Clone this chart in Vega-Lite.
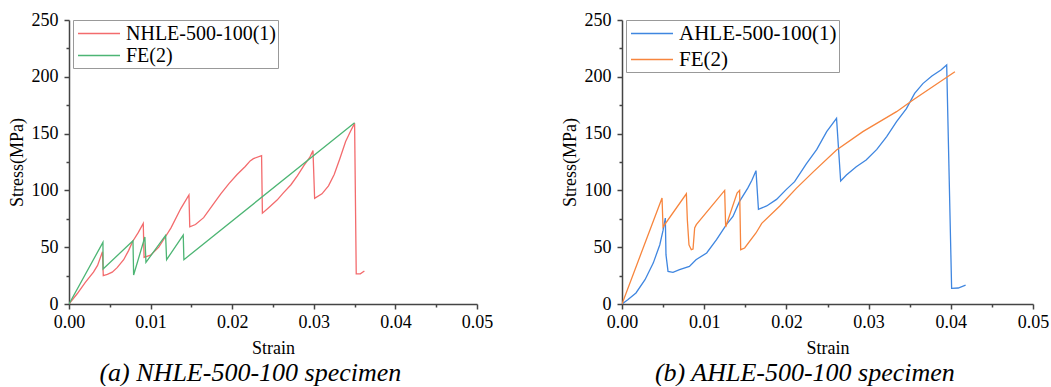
{
  "$schema": "https://vega.github.io/schema/vega-lite/v6.json",
  "padding": {"left": 8, "top": 11, "right": 5, "bottom": 0},
  "spacing": 68,
  "resolve": {"scale": {"color": "independent"}, "legend": {"color": "independent"}},
  "config": {
    "view": {"stroke": null},
    "font": "Liberation Serif",
    "axis": {
      "labelFont": "Liberation Serif", "labelFontSize": 18, "labelColor": "#000", "labelFlush": false, "labelOverlap": false,
      "titleFont": "Liberation Serif", "titleFontSize": 18, "titleFontWeight": "normal", "titleColor": "#000",
      "domainColor": "#444", "domainWidth": 1.5, "tickColor": "#444", "tickWidth": 1.5, "grid": false
    },
    "title": {"font": "Liberation Serif", "fontSize": 26, "fontStyle": "italic", "fontWeight": "normal", "color": "#000", "orient": "bottom", "anchor": "middle", "frame": "bounds", "offset": 3},
    "legend": {"labelFont": "Liberation Serif", "labelFontSize": 20, "labelColor": "#000", "labelLimit": 400}
  },
  "datasets": {
    "a": [
      {"s": "NHLE-500-100(1)", "x": 0, "y": 0},
      {"s": "NHLE-500-100(1)", "x": 0.001, "y": 9},
      {"s": "NHLE-500-100(1)", "x": 0.002, "y": 19},
      {"s": "NHLE-500-100(1)", "x": 0.003, "y": 28},
      {"s": "NHLE-500-100(1)", "x": 0.0035, "y": 34},
      {"s": "NHLE-500-100(1)", "x": 0.0041, "y": 46},
      {"s": "NHLE-500-100(1)", "x": 0.0042, "y": 25},
      {"s": "NHLE-500-100(1)", "x": 0.0047, "y": 26},
      {"s": "NHLE-500-100(1)", "x": 0.0053, "y": 28},
      {"s": "NHLE-500-100(1)", "x": 0.0059, "y": 32},
      {"s": "NHLE-500-100(1)", "x": 0.0067, "y": 39},
      {"s": "NHLE-500-100(1)", "x": 0.0073, "y": 47},
      {"s": "NHLE-500-100(1)", "x": 0.0078, "y": 55},
      {"s": "NHLE-500-100(1)", "x": 0.0085, "y": 63},
      {"s": "NHLE-500-100(1)", "x": 0.0091, "y": 71},
      {"s": "NHLE-500-100(1)", "x": 0.0092, "y": 41},
      {"s": "NHLE-500-100(1)", "x": 0.01, "y": 43},
      {"s": "NHLE-500-100(1)", "x": 0.011, "y": 50},
      {"s": "NHLE-500-100(1)", "x": 0.0118, "y": 59},
      {"s": "NHLE-500-100(1)", "x": 0.0125, "y": 67},
      {"s": "NHLE-500-100(1)", "x": 0.0137, "y": 84},
      {"s": "NHLE-500-100(1)", "x": 0.0147, "y": 96},
      {"s": "NHLE-500-100(1)", "x": 0.0148, "y": 68},
      {"s": "NHLE-500-100(1)", "x": 0.0155, "y": 70},
      {"s": "NHLE-500-100(1)", "x": 0.0165, "y": 76},
      {"s": "NHLE-500-100(1)", "x": 0.0176, "y": 87},
      {"s": "NHLE-500-100(1)", "x": 0.0186, "y": 97},
      {"s": "NHLE-500-100(1)", "x": 0.0196, "y": 106},
      {"s": "NHLE-500-100(1)", "x": 0.0206, "y": 114},
      {"s": "NHLE-500-100(1)", "x": 0.0216, "y": 121},
      {"s": "NHLE-500-100(1)", "x": 0.0222, "y": 126},
      {"s": "NHLE-500-100(1)", "x": 0.0226, "y": 128},
      {"s": "NHLE-500-100(1)", "x": 0.0236, "y": 130.5},
      {"s": "NHLE-500-100(1)", "x": 0.0237, "y": 80},
      {"s": "NHLE-500-100(1)", "x": 0.0245, "y": 85},
      {"s": "NHLE-500-100(1)", "x": 0.0255, "y": 91.5},
      {"s": "NHLE-500-100(1)", "x": 0.0263, "y": 98},
      {"s": "NHLE-500-100(1)", "x": 0.0272, "y": 105},
      {"s": "NHLE-500-100(1)", "x": 0.028, "y": 113},
      {"s": "NHLE-500-100(1)", "x": 0.0288, "y": 122},
      {"s": "NHLE-500-100(1)", "x": 0.0295, "y": 129},
      {"s": "NHLE-500-100(1)", "x": 0.0299, "y": 135},
      {"s": "NHLE-500-100(1)", "x": 0.0301, "y": 93},
      {"s": "NHLE-500-100(1)", "x": 0.031, "y": 97},
      {"s": "NHLE-500-100(1)", "x": 0.0318, "y": 104},
      {"s": "NHLE-500-100(1)", "x": 0.0325, "y": 114},
      {"s": "NHLE-500-100(1)", "x": 0.0332, "y": 128},
      {"s": "NHLE-500-100(1)", "x": 0.0339, "y": 143},
      {"s": "NHLE-500-100(1)", "x": 0.0345, "y": 152},
      {"s": "NHLE-500-100(1)", "x": 0.035, "y": 159},
      {"s": "NHLE-500-100(1)", "x": 0.0352, "y": 26.5},
      {"s": "NHLE-500-100(1)", "x": 0.0357, "y": 26.5},
      {"s": "NHLE-500-100(1)", "x": 0.0362, "y": 29},
      {"s": "FE(2)", "x": 0, "y": 0},
      {"s": "FE(2)", "x": 0.00416, "y": 54.3},
      {"s": "FE(2)", "x": 0.00418, "y": 30.8},
      {"s": "FE(2)", "x": 0.00784, "y": 55.7},
      {"s": "FE(2)", "x": 0.00792, "y": 25.5},
      {"s": "FE(2)", "x": 0.0093, "y": 59},
      {"s": "FE(2)", "x": 0.00943, "y": 36.7},
      {"s": "FE(2)", "x": 0.01184, "y": 60.4},
      {"s": "FE(2)", "x": 0.01196, "y": 39},
      {"s": "FE(2)", "x": 0.014, "y": 60.7},
      {"s": "FE(2)", "x": 0.01408, "y": 39},
      {"s": "FE(2)", "x": 0.035, "y": 159.6}
    ],
    "b": [
      {"s": "AHLE-500-100(1)", "x": 0, "y": 0},
      {"s": "AHLE-500-100(1)", "x": 0.0007, "y": 3.8},
      {"s": "AHLE-500-100(1)", "x": 0.0017, "y": 9.7},
      {"s": "AHLE-500-100(1)", "x": 0.0028, "y": 21.4},
      {"s": "AHLE-500-100(1)", "x": 0.0038, "y": 36},
      {"s": "AHLE-500-100(1)", "x": 0.0046, "y": 52.2},
      {"s": "AHLE-500-100(1)", "x": 0.005, "y": 65},
      {"s": "AHLE-500-100(1)", "x": 0.00527, "y": 75.7},
      {"s": "AHLE-500-100(1)", "x": 0.00535, "y": 43.4},
      {"s": "AHLE-500-100(1)", "x": 0.0056, "y": 28.7},
      {"s": "AHLE-500-100(1)", "x": 0.0062, "y": 27.9},
      {"s": "AHLE-500-100(1)", "x": 0.007, "y": 30.2},
      {"s": "AHLE-500-100(1)", "x": 0.0082, "y": 33.1},
      {"s": "AHLE-500-100(1)", "x": 0.009, "y": 39},
      {"s": "AHLE-500-100(1)", "x": 0.0103, "y": 44.9},
      {"s": "AHLE-500-100(1)", "x": 0.0115, "y": 56.6},
      {"s": "AHLE-500-100(1)", "x": 0.0127, "y": 69.8},
      {"s": "AHLE-500-100(1)", "x": 0.0135, "y": 77.1},
      {"s": "AHLE-500-100(1)", "x": 0.0143, "y": 90.3},
      {"s": "AHLE-500-100(1)", "x": 0.0153, "y": 102},
      {"s": "AHLE-500-100(1)", "x": 0.0158, "y": 109},
      {"s": "AHLE-500-100(1)", "x": 0.0163, "y": 117.4},
      {"s": "AHLE-500-100(1)", "x": 0.0166, "y": 83.3},
      {"s": "AHLE-500-100(1)", "x": 0.0176, "y": 86.3},
      {"s": "AHLE-500-100(1)", "x": 0.0188, "y": 92.1},
      {"s": "AHLE-500-100(1)", "x": 0.02, "y": 100.9},
      {"s": "AHLE-500-100(1)", "x": 0.021, "y": 107.7},
      {"s": "AHLE-500-100(1)", "x": 0.0224, "y": 123.2},
      {"s": "AHLE-500-100(1)", "x": 0.0237, "y": 136.1},
      {"s": "AHLE-500-100(1)", "x": 0.0249, "y": 151.7},
      {"s": "AHLE-500-100(1)", "x": 0.0261, "y": 163.4},
      {"s": "AHLE-500-100(1)", "x": 0.0266, "y": 108.3},
      {"s": "AHLE-500-100(1)", "x": 0.0273, "y": 113.6},
      {"s": "AHLE-500-100(1)", "x": 0.0285, "y": 120.9},
      {"s": "AHLE-500-100(1)", "x": 0.0297, "y": 126.8},
      {"s": "AHLE-500-100(1)", "x": 0.031, "y": 136.1},
      {"s": "AHLE-500-100(1)", "x": 0.0322, "y": 147.3},
      {"s": "AHLE-500-100(1)", "x": 0.0334, "y": 160.5},
      {"s": "AHLE-500-100(1)", "x": 0.0346, "y": 172},
      {"s": "AHLE-500-100(1)", "x": 0.0356, "y": 185.4},
      {"s": "AHLE-500-100(1)", "x": 0.0366, "y": 194},
      {"s": "AHLE-500-100(1)", "x": 0.0377, "y": 200.7},
      {"s": "AHLE-500-100(1)", "x": 0.0388, "y": 206},
      {"s": "AHLE-500-100(1)", "x": 0.0395, "y": 210.4},
      {"s": "AHLE-500-100(1)", "x": 0.0401, "y": 13.8},
      {"s": "AHLE-500-100(1)", "x": 0.0409, "y": 14.1},
      {"s": "AHLE-500-100(1)", "x": 0.0418, "y": 16.7},
      {"s": "FE(2)", "x": 0, "y": 0},
      {"s": "FE(2)", "x": 0.00487, "y": 93.3},
      {"s": "FE(2)", "x": 0.00499, "y": 67.8},
      {"s": "FE(2)", "x": 0.00783, "y": 97},
      {"s": "FE(2)", "x": 0.00795, "y": 74},
      {"s": "FE(2)", "x": 0.00815, "y": 52},
      {"s": "FE(2)", "x": 0.00843, "y": 47.8},
      {"s": "FE(2)", "x": 0.00864, "y": 48.4},
      {"s": "FE(2)", "x": 0.00884, "y": 66.9},
      {"s": "FE(2)", "x": 0.00904, "y": 69.8},
      {"s": "FE(2)", "x": 0.01249, "y": 100},
      {"s": "FE(2)", "x": 0.01261, "y": 67.8},
      {"s": "FE(2)", "x": 0.014, "y": 97.7},
      {"s": "FE(2)", "x": 0.01431, "y": 100},
      {"s": "FE(2)", "x": 0.01444, "y": 47.8},
      {"s": "FE(2)", "x": 0.01492, "y": 49.3},
      {"s": "FE(2)", "x": 0.0163, "y": 62.5},
      {"s": "FE(2)", "x": 0.017, "y": 71},
      {"s": "FE(2)", "x": 0.0192, "y": 86.3},
      {"s": "FE(2)", "x": 0.0212, "y": 101.8},
      {"s": "FE(2)", "x": 0.0233, "y": 116.5},
      {"s": "FE(2)", "x": 0.0261, "y": 135.6},
      {"s": "FE(2)", "x": 0.0293, "y": 151.7},
      {"s": "FE(2)", "x": 0.0334, "y": 169.3},
      {"s": "FE(2)", "x": 0.0354, "y": 179.6},
      {"s": "FE(2)", "x": 0.0405, "y": 204.5}
    ]
  },
  "hconcat": [
    {
      "width": 408, "height": 284,
      "title": "(a) NHLE-500-100 specimen",
      "data": {"name": "a"},
      "resolve": {"axis": {"x": "independent", "y": "independent"}},
      "layer": [
        {
          "mark": {"type": "line", "opacity": 0},
          "encoding": {
            "x": {"field": "x", "type": "quantitative", "scale": {"domain": [0, 0.05], "nice": false},
                  "axis": {"orient": "bottom", "title": null, "labels": false, "domain": false, "values": [0.005, 0.015, 0.025, 0.035, 0.045], "tickSize": 3}},
            "y": {"field": "y", "type": "quantitative", "scale": {"domain": [0, 250], "nice": false},
                  "axis": {"orient": "left", "title": null, "labels": false, "domain": false, "values": [25, 75, 125, 175, 225], "tickSize": 3}},
            "detail": {"field": "s"}
          }
        },
        {
          "mark": {"type": "line", "strokeWidth": 1.3, "clip": true},
          "encoding": {
            "x": {"field": "x", "type": "quantitative",
                  "axis": {"orient": "bottom", "title": "Strain", "values": [0, 0.01, 0.02, 0.03, 0.04, 0.05], "format": ".2f", "tickSize": 5, "labelPadding": 4, "titlePadding": 8}},
            "y": {"field": "y", "type": "quantitative",
                  "axis": {"orient": "left", "title": "Stress(MPa)", "values": [0, 50, 100, 150, 200, 250], "format": "d", "tickSize": 5, "labelPadding": 6, "titlePadding": 5}},
            "color": {"field": "s", "type": "nominal", "sort": null,
                      "scale": {"domain": ["NHLE-500-100(1)", "FE(2)"], "range": ["#F36B6D", "#4DB574"]},
                      "legend": {"orient": "none", "legendX": 4, "legendY": 0, "title": null, "symbolType": "M-1,0H3", "symbolSize": 441, "symbolStrokeWidth": 1.5, "symbolOffset": 2, "labelOffset": 26, "padding": 2, "rowPadding": 0, "strokeColor": "#999"}},
            "order": {"field": "x", "type": "quantitative"}
          }
        }
      ]
    },
    {
      "width": 411, "height": 284,
      "title": "(b) AHLE-500-100 specimen",
      "data": {"name": "b"},
      "resolve": {"axis": {"x": "independent", "y": "independent"}},
      "layer": [
        {
          "mark": {"type": "line", "opacity": 0},
          "encoding": {
            "x": {"field": "x", "type": "quantitative", "scale": {"domain": [0, 0.05], "nice": false},
                  "axis": {"orient": "bottom", "title": null, "labels": false, "domain": false, "values": [0.005, 0.015, 0.025, 0.035, 0.045], "tickSize": 3}},
            "y": {"field": "y", "type": "quantitative", "scale": {"domain": [0, 250], "nice": false},
                  "axis": {"orient": "left", "title": null, "labels": false, "domain": false, "values": [25, 75, 125, 175, 225], "tickSize": 3}},
            "detail": {"field": "s"}
          }
        },
        {
          "mark": {"type": "line", "strokeWidth": 1.3, "clip": true},
          "encoding": {
            "x": {"field": "x", "type": "quantitative",
                  "axis": {"orient": "bottom", "title": "Strain", "values": [0, 0.01, 0.02, 0.03, 0.04, 0.05], "format": ".2f", "tickSize": 5, "labelPadding": 4, "titlePadding": 8}},
            "y": {"field": "y", "type": "quantitative",
                  "axis": {"orient": "left", "title": "Stress(MPa)", "values": [0, 50, 100, 150, 200, 250], "format": "d", "tickSize": 5, "labelPadding": 6, "titlePadding": 5}},
            "color": {"field": "s", "type": "nominal", "sort": null,
                      "scale": {"domain": ["AHLE-500-100(1)", "FE(2)"], "range": ["#3F86E0", "#F7853D"]},
                      "legend": {"orient": "none", "legendX": 4, "legendY": 0, "title": null, "symbolType": "M-1,0H3", "symbolSize": 441, "symbolStrokeWidth": 1.5, "symbolOffset": 2, "labelOffset": 26, "padding": 2, "rowPadding": 4, "labelFontSize": 21, "strokeColor": "#999"}},
            "order": {"field": "x", "type": "quantitative"}
          }
        }
      ]
    }
  ]
}
